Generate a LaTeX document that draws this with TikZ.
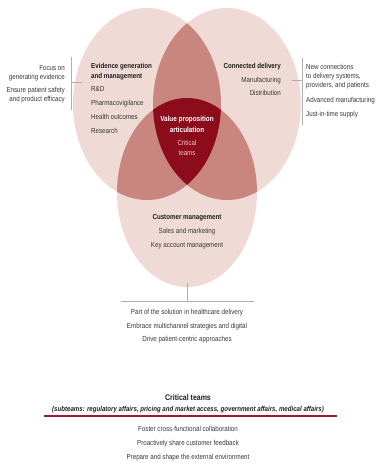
\documentclass[tikz,border=0pt]{standalone}
\usepackage{fontspec}
\setmainfont{Liberation Sans}[FakeStretch=0.85]
\definecolor{lightpk}{HTML}{F0DAD5}
\definecolor{midpk}{HTML}{C8867E}
\definecolor{darkred}{HTML}{8C0C1C}
\definecolor{txt}{HTML}{363636}
\definecolor{head}{HTML}{1E1E1E}
\definecolor{teamtxt}{HTML}{F2C6C6}
\definecolor{rule}{HTML}{9B1B30}
\definecolor{brk}{HTML}{AFAFAF}
\begin{document}
\begin{tikzpicture}[x=1pt,y=-1pt,
  body/.style={inner sep=0pt,text=txt,font=\fontsize{7.3}{8}\selectfont},
  hd/.style={inner sep=0pt,text=head,font=\fontsize{7.3}{8}\selectfont\bfseries},
  wh/.style={inner sep=0pt,text=white,font=\fontsize{7.5}{8}\selectfont\bfseries},
  tm/.style={inner sep=0pt,text=teamtxt,font=\fontsize{7.2}{8}\selectfont},
  bline/.style={draw=brk,line width=0.6pt}]
\useasboundingbox (0,0) rectangle (376,464);
% ellipses
\fill[lightpk] (147,104) ellipse [x radius=74, y radius=96];
\fill[lightpk] (227,104) ellipse [x radius=74, y radius=96];
\fill[lightpk] (187,192.5) ellipse [x radius=70, y radius=94.5];
\begin{scope}
  \clip (147,104) ellipse [x radius=74, y radius=96];
  \fill[midpk] (227,104) ellipse [x radius=74, y radius=96];
  \fill[midpk] (187,192.5) ellipse [x radius=70, y radius=94.5];
\end{scope}
\begin{scope}
  \clip (227,104) ellipse [x radius=74, y radius=96];
  \fill[midpk] (187,192.5) ellipse [x radius=70, y radius=94.5];
\end{scope}
\begin{scope}
  \clip (147,104) ellipse [x radius=74, y radius=96];
  \clip (227,104) ellipse [x radius=74, y radius=96];
  \fill[darkred] (187,192.5) ellipse [x radius=70, y radius=94.5];
\end{scope}
% left bracket
\coordinate (lbt) at (71,57);
\coordinate (lbb) at (71,110);
\coordinate (lbm) at (71,82);
\coordinate (lbe) at (82,82);
\draw[bline] (lbt) -- (lbb);
\draw[bline] (lbm) -- (lbe);
% right bracket
\coordinate (rbt) at (302,58);
\coordinate (rbb) at (302,125);
\coordinate (rbm) at (302,80);
\coordinate (rbe) at (292,80);
\draw[bline] (rbt) -- (rbb);
\draw[bline] (rbm) -- (rbe);
% bottom stem
\coordinate (st) at (187,283);
\coordinate (sb) at (187,301);
\coordinate (hl) at (121,301);
\coordinate (hr) at (254,301);
\draw[bline] (st) -- (sb);
\draw[bline] (hl) -- (hr);
% left outer text
\node[body,anchor=mid east] (l1) at (65,68) {Focus on};
\node[body,anchor=mid east] (l2) at (65,76.5) {generating evidence};
\node[body,anchor=mid east] (l3) at (65,90) {Ensure patient safety};
\node[body,anchor=mid east] (l4) at (65,98.5) {and product efficacy};
% left ellipse text
\node[hd,anchor=mid west] (e1) at (91,66) {Evidence generation};
\node[hd,anchor=mid west] (e2) at (91,76) {and management};
\node[body,anchor=mid west] (e3) at (91,89) {R\&D};
\node[body,anchor=mid west] (e4) at (91,103) {Pharmacovigilance};
\node[body,anchor=mid west] (e5) at (91,117) {Health outcomes};
\node[body,anchor=mid west] (e6) at (91,131) {Research};
% right ellipse text
\node[hd,anchor=mid east] (c1) at (281,66) {Connected delivery};
\node[body,anchor=mid east] (c2) at (281,80) {Manufacturing};
\node[body,anchor=mid east] (c3) at (281,93) {Distribution};
% right outer text
\node[body,anchor=mid west] (r1) at (306,67) {New connections};
\node[body,anchor=mid west] (r2) at (306,76) {to delivery systems,};
\node[body,anchor=mid west] (r3) at (306,85) {providers, and patients};
\node[body,anchor=mid west] (r4) at (306,100) {Advanced manufacturing};
\node[body,anchor=mid west] (r5) at (306,114) {Just-in-time supply};
% center
\node[wh,anchor=mid] (v1) at (187,119) {Value proposition};
\node[wh,anchor=mid] (v2) at (187,130) {articulation};
\node[tm,anchor=mid] (v3) at (187,143) {Critical};
\node[tm,anchor=mid] (v4) at (187,153) {teams};
% customer
\node[hd,anchor=mid] (m1) at (187,217) {Customer management};
\node[body,anchor=mid] (m2) at (187,231) {Sales and marketing};
\node[body,anchor=mid] (m3) at (187,245) {Key account management};
% below stem
\node[body,anchor=mid] (p1) at (187,312) {Part of the solution in healthcare delivery};
\node[body,anchor=mid] (p2) at (187,325.5) {Embrace multichannel strategies and digital};
\node[body,anchor=mid] (p3) at (187,339) {Drive patient-centric approaches};
% critical teams
\node[inner sep=0pt,text=head,font=\fontsize{8.2}{9}\selectfont\bfseries,anchor=mid] (k1) at (188,398) {Critical teams};
\node[inner sep=0pt,text=head,font=\fontsize{7.2}{8}\selectfont\bfseries\itshape,anchor=mid] (k2) at (188,409) {(subteams: regulatory affairs, pricing and market access, government affairs, medical affairs)};
\coordinate (ra) at (44,416);
\coordinate (rb) at (337,416);
\draw[rule,line width=1.3pt] (ra) -- (rb);
\node[body,anchor=mid] (f1) at (188,429) {Foster cross-functional collaboration};
\node[body,anchor=mid] (f2) at (188,443) {Proactively share customer feedback};
\node[body,anchor=mid] (f3) at (188,457) {Prepare and shape the external environment};
\end{tikzpicture}
\end{document}
